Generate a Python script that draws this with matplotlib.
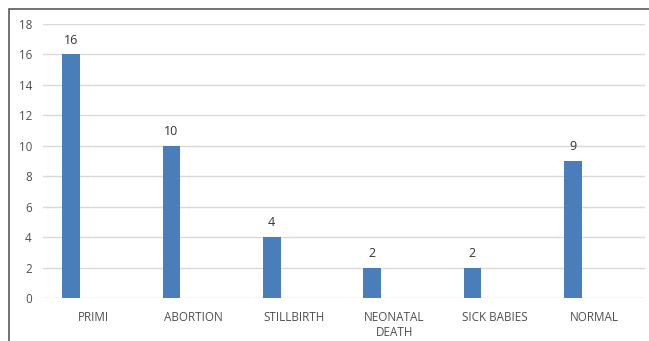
import matplotlib
matplotlib.use("Agg")
import matplotlib.pyplot as plt
from matplotlib.patches import Rectangle
import numpy as np

categories = ["PRIMI", "ABORTION", "STILLBIRTH", "NEONATAL\nDEATH", "SICK BABIES", "NORMAL"]
values = [16, 10, 4, 2, 2, 9]
yticks = [0, 2, 4, 6, 8, 10, 12, 14, 16, 18]

plt.rcParams['font.family'] = ['Open Sans', 'DejaVu Sans']

W, H = 649, 341
fig = plt.figure(figsize=(W / 100, H / 100), dpi=100)
fig.patch.set_facecolor("white")

# outer frame (cropped on right and bottom)
fig.patches.append(Rectangle((9 / W, -0.1), 1.2, (H - 9) / H + 0.1, transform=fig.transFigure,
                             fill=False, edgecolor="#5a5a5a", linewidth=1.2))

ax = fig.add_axes([43 / W, 1 - 298 / H, (645 - 43) / W, (298 - 24) / H])
x = np.arange(len(categories))
offset = -0.22
bars = ax.bar(x + offset, values, width=0.175, color="#4a7ebb", zorder=3)

for xi, v in zip(x, values):
    ax.annotate(str(v), (xi + offset, v), xytext=(0, 5.5), textcoords="offset points",
                ha="center", va="bottom", fontsize=9, color="#333333")

ax.set_xlim(-0.5, len(categories) - 0.5)
ax.set_ylim(0, 18)
ax.set_yticks(yticks)
ax.set_yticklabels([str(t) for t in yticks])
ax.set_xticks(x)
ax.set_xticklabels(categories, linespacing=1.2)
ax.yaxis.grid(True, color="#d9d9d9", linewidth=1, zorder=0)
ax.set_axisbelow(True)
for s in ax.spines.values():
    s.set_visible(False)
ax.tick_params(axis="both", length=0, labelsize=8.4, colors="#4f4f4f")
ax.tick_params(axis="y", pad=8)
ax.tick_params(axis="x", pad=9.5)

fig.savefig("out.png", dpi=100)
